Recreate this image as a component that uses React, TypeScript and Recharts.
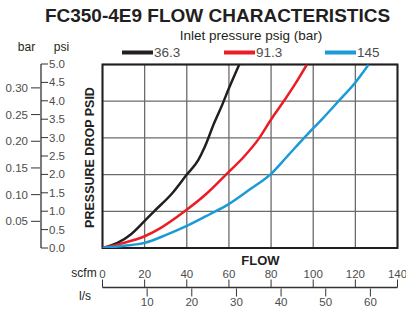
import { LineChart, Line, XAxis, YAxis, CartesianGrid, ReferenceArea } from 'recharts';

// flow in scfm, pressure drop in psi
const flow363 = [0, 4, 7.1, 13.4, 20, 24.5, 33.2, 40, 45.5, 48.5, 52.9, 56.8, 59.7, 64.9];
const drop363 = [0, 0.07, 0.14, 0.37, 0.74, 1.0, 1.5, 2.0, 2.4, 2.75, 3.39, 3.9, 4.31, 5.0];

const flow913 = [0, 8.7, 20, 27.7, 39, 49.2, 59.7, 67, 74.2, 80, 85.9, 92.2, 97];
const drop913 = [0, 0.12, 0.32, 0.55, 1.0, 1.47, 2.06, 2.48, 2.98, 3.5, 3.99, 4.54, 5.0];

const flow145 = [0, 10.3, 20, 30.8, 40, 50.9, 59.7, 70, 80, 87.4, 96.8, 104, 112, 120, 126.3];
const drop145 = [0, 0.06, 0.14, 0.37, 0.6, 0.92, 1.19, 1.6, 2.02, 2.48, 3.07, 3.5, 4.0, 4.51, 5.0];

const scfmTicks = [0, 20, 40, 60, 80, 100, 120, 140];
const lpsTicks = [10, 20, 30, 40, 50, 60];
const psiTicks = [0, 0.5, 1, 1.5, 2, 2.5, 3, 3.5, 4, 4.5, 5];
const barTicks = [0.05, 0.1, 0.15, 0.2, 0.25, 0.3];

const PSI_PER_BAR = 14.5038;
const SCFM_PER_LPS = 2.11888;

const toRows = (flow: number[], drop: number[]) => flow.map((f, i) => ({ flow: f, psi: drop[i] }));

const series = [
  { name: '36.3', color: '#231f20', data: toRows(flow363, drop363) },
  { name: '91.3', color: '#ed1c24', data: toRows(flow913, drop913) },
  { name: '145', color: '#1b9ad7', data: toRows(flow145, drop145) },
];

// rows for the flow scales (scfm and the same flow in l/s)
const flowScaleRows = scfmTicks.map((f) => ({ flow: f, lps: f / SCFM_PER_LPS, v: 0 }));
const psiScaleRows = psiTicks.map((p) => ({ psi: p, bar: p / PSI_PER_BAR, v: 0 }));

const W = 406;
const H = 309;
const font = '"Liberation Sans", Arial, sans-serif';
const tickStyle = { fontSize: 11.5, fill: '#4d4d4d', fontFamily: font };
const legendX = [122, 224, 325];

const plotMargin = { top: 64.5, right: 8.5, bottom: 61, left: 102.5 };

export default function App() {
  return (
    <div style={{ position: 'fixed', left: 0, top: 0, width: W, height: H, background: '#fff', fontFamily: font }}>
      {/* main plot */}
      <div style={{ position: 'absolute', left: 0, top: 0 }}>
        <LineChart width={W} height={H} margin={plotMargin}>
          <XAxis dataKey="flow" type="number" domain={[0, 140]} ticks={scfmTicks} hide allowDataOverflow />
          <YAxis type="number" domain={[0, 5]} ticks={psiTicks} hide allowDataOverflow />
          <CartesianGrid stroke="#6b6b6b" strokeWidth={1.3} />
          {series.map((s) => (
            <Line
              key={s.name}
              data={s.data}
              dataKey="psi"
              type="monotone"
              stroke={s.color}
              strokeWidth={2.5}
              dot={false}
              isAnimationActive={false}
            />
          ))}
          <ReferenceArea x1={0} x2={140} y1={0} y2={5} fill="none" stroke="#231f20" strokeWidth={2} ifOverflow="visible" />
        </LineChart>
      </div>

      {/* left bar / psi scales */}
      <div style={{ position: 'absolute', left: 0, top: 0 }}>
        <LineChart width={W} height={H} data={psiScaleRows} margin={{ top: 64, bottom: 61, left: 0, right: W - 41 - 40 }}>
          <XAxis dataKey="v" type="number" domain={[0, 1]} hide />
          <YAxis
            yAxisId="bar"
            dataKey="bar"
            orientation="left"
            width={40}
            type="number"
            domain={[0, 5 / PSI_PER_BAR]}
            ticks={barTicks}
            tickFormatter={(v: number) => v.toFixed(2)}
            axisLine={false}
            tickSize={9}
            tickMargin={3}
            tick={tickStyle}
            tickLine={{ stroke: '#333' }}
            allowDataOverflow
          />
          <YAxis
            yAxisId="psi"
            dataKey="psi"
            orientation="right"
            width={40}
            type="number"
            domain={[0, 5]}
            ticks={psiTicks}
            tickFormatter={(v: number) => v.toFixed(1)}
            axisLine={{ stroke: '#333', strokeWidth: 1.3 }}
            tickSize={7}
            tickMargin={1}
            tick={tickStyle}
            tickLine={{ stroke: '#333' }}
            interval={0}
            allowDataOverflow
          />
        </LineChart>
      </div>

      {/* bottom scfm / l/s scales */}
      <div style={{ position: 'absolute', left: 0, top: 0 }}>
        <LineChart
          width={W}
          height={H}
          data={flowScaleRows}
          margin={{ top: 0, bottom: H - 288.5 - 20, left: plotMargin.left, right: plotMargin.right }}
        >
          <YAxis dataKey="v" type="number" domain={[0, 1]} hide />
          <XAxis
            xAxisId="scfm"
            dataKey="flow"
            orientation="top"
            height={287.5}
            type="number"
            domain={[0, 140]}
            ticks={scfmTicks}
            interval={0}
            axisLine={{ stroke: '#333', strokeWidth: 1.3 }}
            tickLine={{ stroke: '#333' }}
            tickSize={8}
            tickMargin={2}
            tick={tickStyle}
            allowDataOverflow
          />
          <XAxis
            xAxisId="lps"
            dataKey="lps"
            orientation="bottom"
            height={20}
            type="number"
            domain={[0, 140 / SCFM_PER_LPS]}
            ticks={lpsTicks}
            interval={0}
            axisLine={false}
            tickLine={{ stroke: '#333' }}
            tickSize={8}
            tickMargin={1}
            tick={tickStyle}
            allowDataOverflow
          />
        </LineChart>
      </div>

      {/* titles, labels, legend */}
      <svg width={W} height={H} style={{ position: 'absolute', left: 0, top: 0, pointerEvents: 'none' }}>
        <text x={217.5} y={15} textAnchor="middle" dominantBaseline="central" fontSize={19} fontWeight="bold" fill="#231f20" fontFamily={font}>
          FC350-4E9 FLOW CHARACTERISTICS
        </text>
        <text x={251} y={35} textAnchor="middle" dominantBaseline="central" fontSize={13.5} fill="#231f20" fontFamily={font}>
          Inlet pressure psig (bar)
        </text>
        {series.map((s, i) => (
          <g key={s.name}>
            <line x1={legendX[i]} x2={legendX[i] + 31} y1={52.5} y2={52.5} stroke={s.color} strokeWidth={4} />
            <text x={legendX[i] + 32} y={52.5} dominantBaseline="central" fontSize={13.5} fill="#4d4d4d" fontFamily={font}>
              {s.name}
            </text>
          </g>
        ))}
        <text x={26.5} y={47} textAnchor="middle" dominantBaseline="central" fontSize={12} fill="#231f20" fontFamily={font}>
          bar
        </text>
        <text x={61.5} y={47} textAnchor="middle" dominantBaseline="central" fontSize={12} fill="#231f20" fontFamily={font}>
          psi
        </text>
        <text
          x={90}
          y={157.5}
          transform="rotate(-90 90 157.5)"
          textAnchor="middle"
          dominantBaseline="central"
          fontSize={12.5}
          fontWeight="bold"
          fill="#231f20"
          fontFamily={font}
        >
          PRESSURE DROP PSID
        </text>
        <text x={260.5} y={260} textAnchor="middle" dominantBaseline="central" fontSize={13} fontWeight="bold" fill="#231f20" fontFamily={font}>
          FLOW
        </text>
        <text x={84} y={272.5} textAnchor="middle" dominantBaseline="central" fontSize={12} fill="#231f20" fontFamily={font}>
          scfm
        </text>
        <text x={85} y={296} textAnchor="middle" dominantBaseline="central" fontSize={12} fill="#231f20" fontFamily={font}>
          l/s
        </text>
      </svg>
    </div>
  );
}
